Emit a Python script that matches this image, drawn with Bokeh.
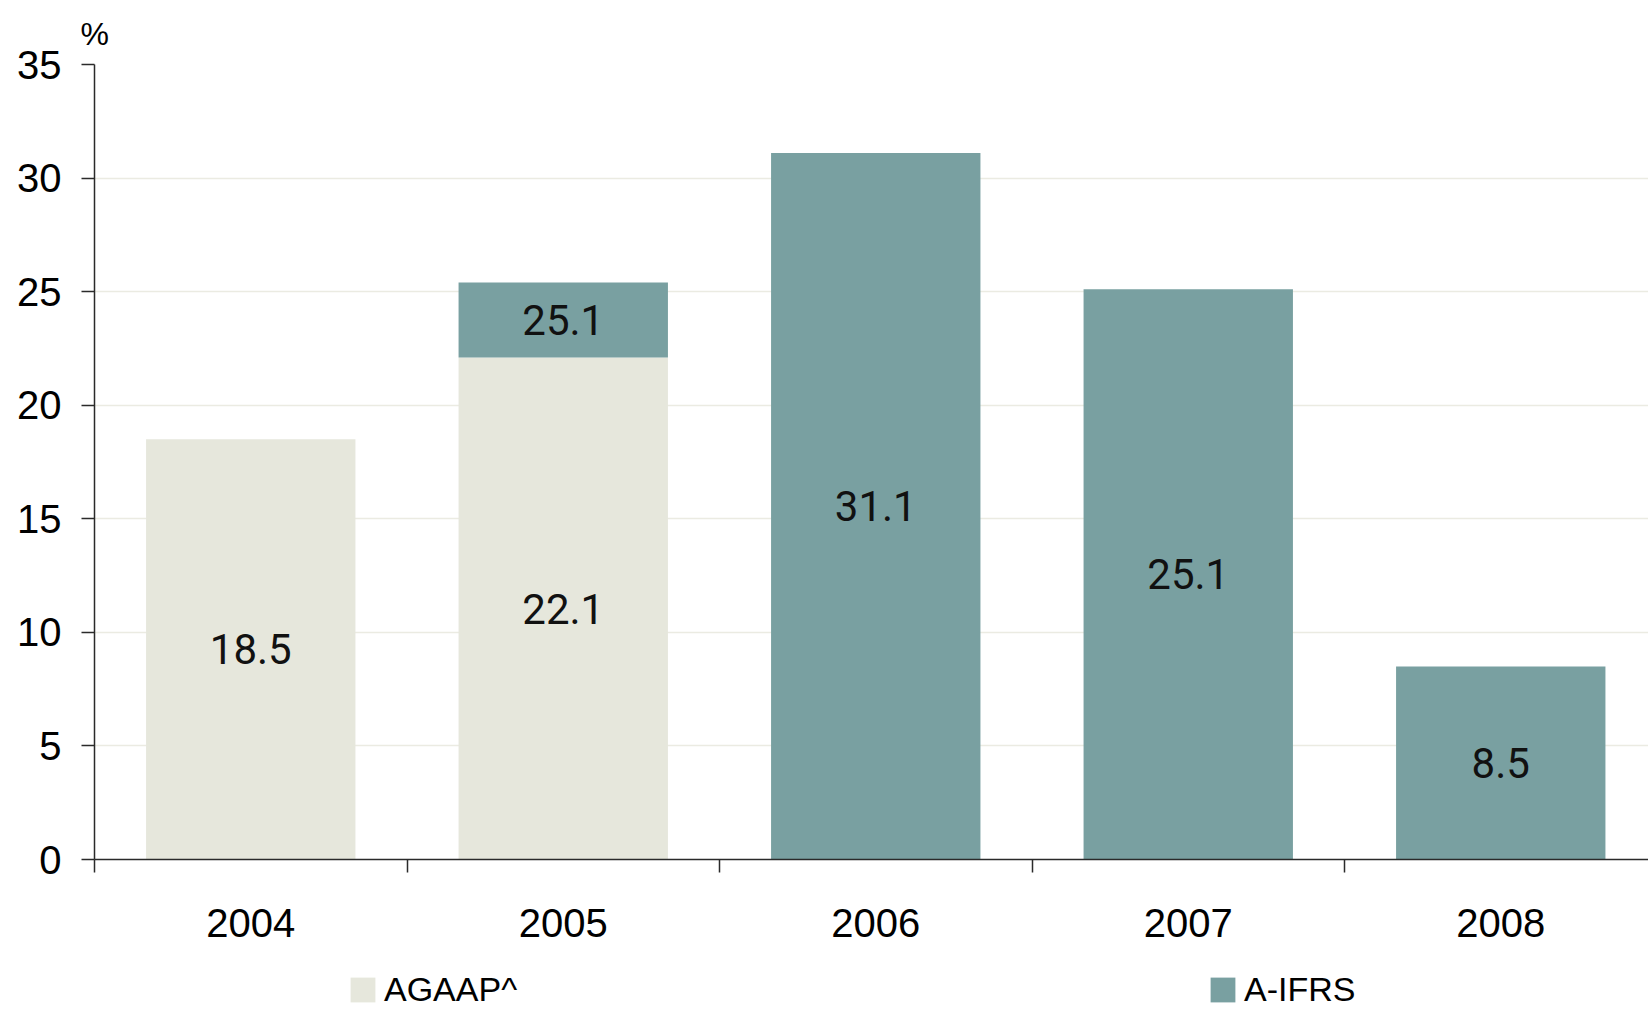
from bokeh.plotting import figure
from bokeh.layouts import column
from bokeh.models import (Range1d, FixedTicker, Legend, LegendItem,
                          ColumnDataSource)
from bokeh.core.properties import value
from bokeh.embed import file_html
from bokeh.resources import INLINE

# ---- data ----
years = ["2004", "2005", "2006", "2007", "2008"]
agaap = [18.5, 22.1, 0, 0, 0]          # AGAAP^ segment heights
aifrs = [0, 3.3, 31.1, 25.1, 8.5]      # A-IFRS segment heights (stacked)
agaap_labels = ["18.5", "22.1", "", "", ""]
aifrs_labels = ["", "25.1", "31.1", "25.1", "8.5"]
series_names = ["AGAAP^", "A-IFRS"]
y_ticks = [0, 5, 10, 15, 20, 25, 30, 35]

C_AGAAP = "#e6e7dc"
C_AIFRS = "#79a0a1"

n = len(years)
xc = [i + 0.5 for i in range(n)]
a_top = agaap
b_bot = agaap
b_top = [a + b for a, b in zip(agaap, aifrs)]

W, H, LEG_H = 1648, 945, 64
LEFT, TOP, BOTTOM = 94, 63, 86
cat_px = 312.5
x_end = (W - LEFT) / cat_px

p = figure(width=W, height=H, output_backend="svg", toolbar_location=None,
           x_range=Range1d(0, x_end), y_range=Range1d(0, 35),
           min_border_left=LEFT, min_border_right=0, min_border_top=TOP,
           min_border_bottom=BOTTOM)
p.outline_line_color = None
p.background_fill_color = "white"
p.border_fill_color = "white"

# unit label as title
p.title.text = "%"
p.title.align = "left"
p.title.offset = -14
p.title.text_font = "Liberation Sans"
p.title.text_font_size = "32px"
p.title.text_font_style = "normal"
p.title.text_color = "#000000"
p.title.standoff = 26

src_a = ColumnDataSource(dict(x=xc, bottom=[0] * n, top=a_top))
src_b = ColumnDataSource(dict(x=xc, bottom=b_bot, top=b_top))
p.vbar(x="x", bottom="bottom", top="top", width=0.67, source=src_a,
       fill_color=C_AGAAP, line_color=None)
p.vbar(x="x", bottom="bottom", top="top", width=0.67, source=src_b,
       fill_color=C_AIFRS, line_color=None)

# value labels
lx, ly, lt = [], [], []
for i in range(n):
    if agaap_labels[i]:
        lx.append(xc[i]); ly.append(a_top[i] / 2); lt.append(agaap_labels[i])
    if aifrs_labels[i]:
        lx.append(xc[i]); ly.append((b_bot[i] + b_top[i]) / 2); lt.append(aifrs_labels[i])
p.text(x=lx, y=ly, text=lt, text_align="center", text_baseline="middle",
       text_font=value("Roboto"), text_font_size="42px", text_color="#111111")

# axes
AX = "#2a2a2a"
p.xgrid.visible = False
p.ygrid.ticker = FixedTicker(ticks=y_ticks)
p.ygrid.grid_line_color = "#ebebe2"
p.ygrid.grid_line_width = 1.5

p.yaxis.ticker = FixedTicker(ticks=y_ticks)
p.yaxis.axis_line_color = AX
p.yaxis.axis_line_width = 1.5
p.yaxis.major_tick_line_color = AX
p.yaxis.major_tick_line_width = 1.5
p.yaxis.major_tick_in = 0
p.yaxis.major_tick_out = 13
p.yaxis.minor_tick_line_color = None
p.yaxis.major_label_standoff = 20
p.yaxis.major_label_text_font = "Liberation Sans"
p.yaxis.major_label_text_font_size = "40px"
p.yaxis.major_label_text_color = "#000000"

p.xaxis.ticker = FixedTicker(ticks=xc, minor_ticks=list(range(n + 1)))
p.xaxis.major_label_overrides = {xc[i]: years[i] for i in range(n)}
p.xaxis.axis_line_color = AX
p.xaxis.axis_line_width = 1.5
p.xaxis.major_tick_line_color = None
p.xaxis.major_tick_in = 0
p.xaxis.major_tick_out = 0
p.xaxis.minor_tick_line_color = AX
p.xaxis.minor_tick_line_width = 1.5
p.xaxis.minor_tick_in = 0
p.xaxis.minor_tick_out = 13
p.xaxis.major_label_standoff = 36
p.xaxis.major_label_text_font = "Liberation Sans"
p.xaxis.major_label_text_font_size = "40px"
p.xaxis.major_label_text_color = "#000000"

# legend strip below the chart (same series renderers, bars kept out of view)
pl = figure(width=W, height=LEG_H, output_backend="svg", toolbar_location=None,
            x_range=Range1d(-2, -1), y_range=Range1d(0, 1),
            x_axis_type=None, y_axis_type=None,
            min_border_left=0, min_border_right=0, min_border_top=0,
            min_border_bottom=0)
pl.outline_line_color = None
pl.grid.visible = False
pl.background_fill_color = "white"
pl.border_fill_color = "white"
la = pl.vbar(x="x", bottom="bottom", top="top", width=0.67, source=src_a,
             fill_color=C_AGAAP, line_color=None)
lb = pl.vbar(x="x", bottom="bottom", top="top", width=0.67, source=src_b,
             fill_color=C_AIFRS, line_color=None)
legend = Legend(items=[LegendItem(label=series_names[0], renderers=[la]),
                       LegendItem(label=series_names[1], renderers=[lb])],
                location=(253, 0), orientation="horizontal",
                glyph_width=31, glyph_height=31, label_standoff=6,
                label_width=148, spacing=675,
                label_text_font="Liberation Sans", label_text_font_size="34px",
                label_text_color="#000000", padding=0, margin=0,
                border_line_color=None, background_fill_alpha=0)
pl.add_layout(legend, "center")

layout = column(p, pl, spacing=0)
open("out.html", "w").write(file_html(layout, INLINE))
